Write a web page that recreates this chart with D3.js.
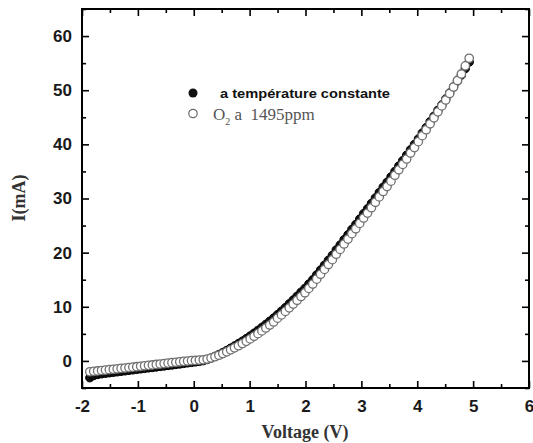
<!DOCTYPE html>
<html>
<head>
<meta charset="utf-8">
<script src="https://cdn.jsdelivr.net/npm/d3@7"></script>
<style>
  html, body { margin: 0; padding: 0; background: #fff; }
  svg { display: block; }
</style>
</head>
<body>
<svg id="chart" width="533" height="443"></svg>
<script>
// ---- data ----
const voltages = [
  -1.86, -1.79, -1.72, -1.65, -1.58, -1.51, -1.44, -1.37, -1.30, -1.23,
  -1.16, -1.09, -1.02, -0.95, -0.88, -0.81, -0.74, -0.67, -0.60, -0.53,
  -0.46, -0.39, -0.32, -0.25, -0.18, -0.11, -0.04, 0.03, 0.10, 0.17,
  0.24, 0.31, 0.38, 0.45, 0.52, 0.59, 0.66, 0.73, 0.80, 0.87,
  0.94, 1.01, 1.08, 1.15, 1.22, 1.29, 1.36, 1.43, 1.50, 1.57,
  1.64, 1.71, 1.78, 1.85, 1.92, 1.99, 2.06, 2.13, 2.20, 2.27,
  2.34, 2.41, 2.48, 2.55, 2.62, 2.69, 2.76, 2.83, 2.90, 2.97,
  3.04, 3.11, 3.18, 3.25, 3.32, 3.39, 3.46, 3.53, 3.60, 3.67,
  3.74, 3.81, 3.88, 3.95, 4.02, 4.09, 4.16, 4.23, 4.30, 4.37,
  4.44, 4.51, 4.58, 4.65, 4.72, 4.79, 4.86, 4.93
];
// "a température constante" (filled circles)
const currentConstTemp = [
  -3.1, -2.7, -2.5, -2.38, -2.28, -2.19, -2.1, -2.01, -1.92, -1.83,
  -1.74, -1.65, -1.56, -1.47, -1.38, -1.29, -1.2, -1.11, -1.02, -0.93,
  -0.84, -0.75, -0.66, -0.56, -0.46, -0.36, -0.27, -0.18, -0.08, 0.05,
  0.25, 0.52, 0.84, 1.18, 1.55, 1.93, 2.35, 2.77, 3.2, 3.65,
  4.12, 4.6, 5.12, 5.65, 6.2, 6.75, 7.32, 7.92, 8.55, 9.2,
  9.85, 10.55, 11.25, 11.95, 12.7, 13.4, 14.2, 15.0, 15.9, 16.8,
  17.7, 18.6, 19.5, 20.5, 21.4, 22.4, 23.3, 24.3, 25.2, 26.2,
  27.2, 28.1, 29.1, 30.1, 31.1, 32.1, 33.0, 34.0, 35.0, 36.0,
  37.0, 38.0, 39.0, 40.0, 41.0, 42.1, 43.1, 44.2, 45.2, 46.3,
  47.3, 48.4, 49.5, 50.6, 51.7, 52.8, 54.0, 55.2
];
// "O2 a 1495ppm" (open circles)
const currentO2 = [
  -2.0, -1.92, -1.85, -1.77, -1.69, -1.61, -1.54, -1.46, -1.38, -1.31,
  -1.23, -1.15, -1.07, -0.99, -0.9, -0.82, -0.74, -0.65, -0.57, -0.49,
  -0.4, -0.32, -0.24, -0.16, -0.08, -0.01, 0.05, 0.09, 0.15, 0.22,
  0.35, 0.53, 0.78, 1.05, 1.35, 1.68, 2.05, 2.42, 2.8, 3.2,
  3.62, 4.07, 4.55, 5.04, 5.55, 6.08, 6.63, 7.2, 7.9, 8.5,
  9.15, 9.8, 10.5, 11.2, 11.9, 12.6, 13.4, 14.2, 15.1, 16.0,
  16.9, 17.8, 18.7, 19.7, 20.6, 21.6, 22.5, 23.5, 24.4, 25.4,
  26.4, 27.3, 28.3, 29.3, 30.3, 31.3, 32.2, 33.2, 34.3, 35.3,
  36.3, 37.3, 38.4, 39.4, 40.5, 41.6, 42.7, 43.8, 44.9, 46.0,
  47.1, 48.2, 49.4, 50.6, 51.8, 53.0, 54.5, 55.9
];
const xMajorTicks = [-2, -1, 0, 1, 2, 3, 4, 5, 6];
const xMinorTicks = [-1.5, -0.5, 0.5, 1.5, 2.5, 3.5, 4.5, 5.5];
const yMajorTicks = [0, 10, 20, 30, 40, 50, 60];
const yMinorTicks = [-5, 5, 15, 25, 35, 45, 55, 65];
const xDomain = [-2, 6];
const yDomain = [-5, 65];
const xTitle = "Voltage (V)";
const yTitle = "I(mA)";
const legendLabel1 = "a température constante";
const legendLabel2 = " a  1495ppm";

// ---- layout ----
const L = 82, R = 529, T = 9, B = 388;
const svg = d3.select("#chart");
const x = d3.scaleLinear().domain(xDomain).range([L, R]);
const y = d3.scaleLinear().domain(yDomain).range([B, T]);

const tickFont = "'Liberation Sans', Arial, sans-serif";
const serif = "'Liberation Serif', 'Times New Roman', serif";
const fmt = d => String(d);

function styleAxis(g) {
  g.select(".domain").remove();
  g.selectAll(".tick line").attr("stroke", "#000").attr("stroke-width", 1.6);
  g.selectAll(".tick text")
    .attr("fill", "#1a1a1a")
    .style("font-family", tickFont)
    .style("font-weight", "bold")
    .style("font-size", "17px");
}

// bottom axis
svg.append("g").attr("transform", `translate(0,${B})`)
  .call(d3.axisBottom(x).tickValues(xMajorTicks).tickSize(-7).tickPadding(12).tickFormat(fmt))
  .call(styleAxis);
svg.append("g").attr("transform", `translate(0,${B})`)
  .call(d3.axisBottom(x).tickValues(xMinorTicks).tickSize(-4).tickFormat(""))
  .call(styleAxis);
// top axis
svg.append("g").attr("transform", `translate(0,${T})`)
  .call(d3.axisTop(x).tickValues(xMajorTicks).tickSize(-7).tickFormat(""))
  .call(styleAxis);
svg.append("g").attr("transform", `translate(0,${T})`)
  .call(d3.axisTop(x).tickValues(xMinorTicks).tickSize(-4).tickFormat(""))
  .call(styleAxis);
// left axis
svg.append("g").attr("transform", `translate(${L},0)`)
  .call(d3.axisLeft(y).tickValues(yMajorTicks).tickSize(-7).tickPadding(10).tickFormat(fmt))
  .call(styleAxis);
svg.append("g").attr("transform", `translate(${L},0)`)
  .call(d3.axisLeft(y).tickValues(yMinorTicks).tickSize(-4).tickFormat(""))
  .call(styleAxis);
// right axis
svg.append("g").attr("transform", `translate(${R},0)`)
  .call(d3.axisRight(y).tickValues(yMajorTicks).tickSize(-7).tickFormat(""))
  .call(styleAxis);
svg.append("g").attr("transform", `translate(${R},0)`)
  .call(d3.axisRight(y).tickValues(yMinorTicks).tickSize(-4).tickFormat(""))
  .call(styleAxis);

// frame
svg.append("rect")
  .attr("x", L).attr("y", T).attr("width", R - L).attr("height", B - T)
  .attr("fill", "none").attr("stroke", "#000").attr("stroke-width", 2);

// data
const filled = voltages.map((v, i) => ({ v, c: currentConstTemp[i] }));
const open = voltages.map((v, i) => ({ v, c: currentO2[i] }));

svg.append("g").selectAll("circle").data(filled).join("circle")
  .attr("cx", d => x(d.v)).attr("cy", d => y(d.c)).attr("r", 4.2)
  .attr("fill", "#111").attr("stroke", "#000").attr("stroke-width", 1);

svg.append("g").selectAll("circle").data(open).join("circle")
  .attr("cx", d => x(d.v)).attr("cy", d => y(d.c)).attr("r", 4.2)
  .attr("fill", "#fff").attr("stroke", "#707070").attr("stroke-width", 1.3);

// legend
svg.append("circle").attr("cx", 193).attr("cy", 93).attr("r", 4.5).attr("fill", "#111");
svg.append("text").attr("x", 220).attr("y", 97.5)
  .style("font-family", tickFont).style("font-weight", "bold").style("font-size", "13.5px")
  .attr("fill", "#111").attr("textLength", 170).attr("lengthAdjust", "spacingAndGlyphs")
  .text(legendLabel1);

svg.append("circle").attr("cx", 193).attr("cy", 113.5).attr("r", 4.2)
  .attr("fill", "#fff").attr("stroke", "#6a6a6a").attr("stroke-width", 1.2);
const t2 = svg.append("text").attr("x", 213).attr("y", 120)
  .style("font-family", serif).style("font-size", "17px").style("white-space", "pre")
  .attr("fill", "#555");
t2.append("tspan").text("O");
t2.append("tspan").attr("dy", 5).style("font-size", "10px").text("2");
t2.append("tspan").attr("dy", -5).text(legendLabel2);

// axis titles
svg.append("text").attr("x", 305).attr("y", 438).attr("text-anchor", "middle")
  .style("font-family", serif).style("font-weight", "bold").style("font-size", "18px")
  .attr("fill", "#333").text(xTitle);
svg.append("text").attr("transform", "translate(25,198) rotate(-90)").attr("text-anchor", "middle")
  .style("font-family", serif).style("font-weight", "bold").style("font-size", "18px")
  .attr("fill", "#333").text(yTitle);
</script>
</body>
</html>
